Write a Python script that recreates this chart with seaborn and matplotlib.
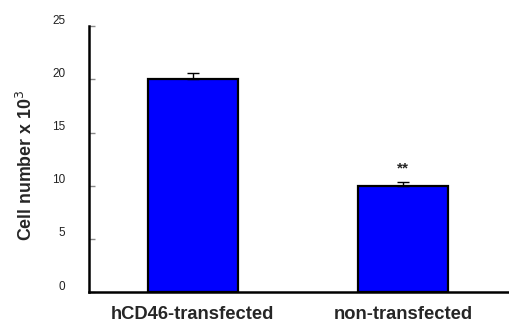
import matplotlib
matplotlib.use("Agg")
import matplotlib.pyplot as plt
import matplotlib.transforms as mtransforms
import seaborn as sns
import pandas as pd

groups = ["hCD46-transfected", "non-transfected"]
cell_counts = [20.0, 10.0]
errors = [0.6, 0.3]
y_ticks = [0, 5, 10, 15, 20, 25]

sns.set_style("white")
plt.rcParams['font.family'] = ['Liberation Sans', 'DejaVu Sans']

df = pd.DataFrame({"group": groups, "count": cell_counts})

fig = plt.figure(figsize=(5.1, 3.27), dpi=100)
ax = fig.add_axes([0.1745, 0.107, 0.8255, 0.813])

sns.barplot(data=df, x="group", y="count", color="#0000ff", saturation=1,
            width=0.43, edgecolor="black", linewidth=1.6, errorbar=None, ax=ax)
ax.errorbar(range(len(groups)), cell_counts, yerr=[[0, 0], errors], fmt="none",
            ecolor="black", elinewidth=1, capsize=4, capthick=1)
ax.text(1, 11.0, "**", ha="center", va="bottom",
        fontsize=11, fontweight="bold")

ax.set_xlim(-0.495, 1.51)
ax.set_ylim(0, 25)
ax.set_yticks(y_ticks)
ax.set_xlabel("")
ax.set_ylabel("Cell number x 10$^3$", fontsize=12.8, fontweight="bold")
ax.yaxis.set_label_coords(-0.125, 0.475)

sns.despine(ax=ax, top=True, right=True)
ax.spines["left"].set_linewidth(1.8)
ax.spines["bottom"].set_linewidth(1.8)
ax.spines["left"].set_color("black")
ax.spines["bottom"].set_color("black")

ax.tick_params(axis="y", direction="in", length=4, width=1, color="#888888",
               labelsize=8.5, labelcolor="#222222", pad=17, left=True)
ax.tick_params(axis="x", length=0, labelsize=13.2, pad=10)
for lbl in ax.get_xticklabels():
    lbl.set_fontweight("bold")
offset = mtransforms.ScaledTranslation(0, 5 / 72, fig.dpi_scale_trans)
for lbl in ax.get_yticklabels():
    lbl.set_transform(lbl.get_transform() + offset)

fig.savefig("out.png", dpi=100)
